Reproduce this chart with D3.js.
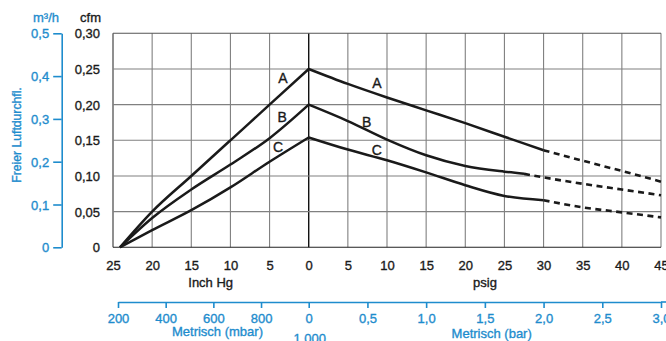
<!DOCTYPE html>
<html>
<head>
<meta charset="utf-8">
<script src="https://cdn.jsdelivr.net/npm/d3@7"></script>
<style>
  html, body { margin: 0; padding: 0; background: #fff; }
  svg { display: block; font-family: "Liberation Sans", Arial, Helvetica, sans-serif; }
  svg text { stroke-width: 0.35px; paint-order: stroke; }
</style>
</head>
<body>
<svg id="chart" width="666" height="341"></svg>
<script>
// ---------- data ----------
const curveNames = ["A", "B", "C"];

// x: negative = vacuum (inch Hg), positive = pressure (psig); y: free air flow (cfm)
const pressureA = [-24.1, -20, -15, -10, -5, 0, 5, 10, 15, 20, 25, 30];
const flowA     = [0, 0.05, 0.10, 0.15, 0.20, 0.25, 0.229, 0.21, 0.192, 0.174, 0.155, 0.136];
const pressureADash = [30, 35, 40, 45];
const flowADash     = [0.136, 0.1214, 0.107, 0.092];

const pressureB = [-24.1, -20, -15, -10, -5, 0, 5, 10, 15, 20, 25, 27.5];
const flowB     = [0, 0.041, 0.081, 0.116, 0.153, 0.20, 0.177, 0.151, 0.129, 0.114, 0.106, 0.103];
const pressureBDash = [27.5, 30, 35, 40, 45];
const flowBDash     = [0.103, 0.098, 0.089, 0.081, 0.073];

const pressureC = [-24.1, -20, -15, -10, -5, 0, 5, 10, 15, 20, 25, 30];
const flowC     = [0, 0.024, 0.052, 0.084, 0.12, 0.154, 0.137, 0.122, 0.105, 0.087, 0.072, 0.066];
const pressureCDash = [30, 35, 40, 45];
const flowCDash     = [0.066, 0.056, 0.049, 0.042];

// curve label anchors (data coordinates)
const labelLeftX  = [-3.3, -3.4, -3.9];
const labelLeftY  = [0.237, 0.182, 0.140];
const labelRightX = [8.7, 7.4, 8.7];
const labelRightY = [0.231, 0.176, 0.136];

// axes ticks
const xTicks = [-25, -20, -15, -10, -5, 0, 5, 10, 15, 20, 25, 30, 35, 40, 45];
const cfmTicks = [0, 0.05, 0.10, 0.15, 0.20, 0.25, 0.30];
const m3hTicks = [0, 0.1, 0.2, 0.3, 0.4, 0.5];
const mbarTicks = [200, 400, 600, 800];
const barTicks = [0, 0.5, 1.0, 1.5, 2.0, 2.5, 3.0];

// ---------- layout ----------
const BLUE = "#1e8ccd";
const INK = "#1a1a1a";
const plot = { left: 113, right: 661, top: 33.3, bottom: 247.3 };

const svg = d3.select("#chart");
svg.append("rect").attr("width", 666).attr("height", 341).attr("fill", "#fff");

const x = d3.scaleLinear().domain([-25, 45]).range([plot.left, plot.right]);
const y = d3.scaleLinear().domain([0, 0.30]).range([plot.bottom, plot.top]);
const yM3 = d3.scaleLinear().domain([0, 0.5]).range([plot.bottom, plot.top]);
const xMbar = d3.scaleLinear().domain([200, 1000]).range([118, x(0)]);
const xBar = d3.scaleLinear().domain([0, 3]).range([x(0), plot.right]);

const comma = s => s.replace(".", ",");
const txt = (sel, color) => sel.attr("fill", color).attr("stroke", color);

// ---------- grid ----------
const grid = svg.append("g");
grid.selectAll("line.v").data(xTicks).join("line")
  .attr("x1", d => x(d)).attr("x2", d => x(d))
  .attr("y1", plot.top).attr("y2", plot.bottom)
  .attr("stroke", d => d === 0 ? "#111" : (d === -25 ? "#333" : "#808080"))
  .attr("stroke-width", d => d === 0 ? 1.4 : 1.1);
grid.selectAll("line.h").data(cfmTicks).join("line")
  .attr("x1", plot.left).attr("x2", plot.right)
  .attr("y1", d => y(d)).attr("y2", d => y(d))
  .attr("stroke", d => d === 0 ? "#222" : (d === 0.30 ? "#555" : "#808080"))
  .attr("stroke-width", 1.1);

// ---------- curves ----------
const lineSmooth = d3.line().x(d => x(d[0])).y(d => y(d[1])).curve(d3.curveMonotoneX);
const solids = [[pressureA, flowA], [pressureB, flowB], [pressureC, flowC]];
const dashes = [[pressureADash, flowADash], [pressureBDash, flowBDash], [pressureCDash, flowCDash]];

solids.forEach(([px, fy]) => {
  const pts = px.map((v, i) => [v, fy[i]]);
  const k = px.indexOf(0);
  const left = lineSmooth(pts.slice(0, k + 1));
  const right = lineSmooth(pts.slice(k)).replace(/^M[^A-Za-z]*/, "");
  svg.append("path").attr("d", left + right)
    .attr("fill", "none").attr("stroke", INK)
    .attr("stroke-width", 2.5).attr("stroke-linejoin", "miter");
});
dashes.forEach(([px, fy]) => {
  svg.append("path").datum(px.map((v, i) => [v, fy[i]]))
    .attr("d", lineSmooth).attr("fill", "none").attr("stroke", INK)
    .attr("stroke-width", 2.6).attr("stroke-dasharray", "6,4.5");
});

// curve labels
curveNames.forEach((n, i) => {
  [[labelLeftX[i], labelLeftY[i]], [labelRightX[i], labelRightY[i]]].forEach(([lx, ly]) => {
    svg.append("text").attr("x", x(lx)).attr("y", y(ly))
      .attr("text-anchor", "middle").attr("dominant-baseline", "central")
      .attr("font-size", 14).call(txt, INK).text(n);
  });
});

// ---------- left cfm axis ----------
const axCfm = svg.append("g").attr("transform", `translate(${plot.left},0)`)
  .call(d3.axisLeft(y).tickValues(cfmTicks).tickSize(0).tickPadding(13)
    .tickFormat(d => d === 0 ? "0" : comma(d3.format(".2f")(d))));
axCfm.select(".domain").remove();
axCfm.selectAll("text").attr("font-size", 13).call(txt, INK)
  .attr("font-family", null).attr("dy", "0.36em");
svg.append("text").attr("x", 90.5).attr("y", 17).attr("text-anchor", "middle")
  .attr("dominant-baseline", "central").attr("font-size", 13).call(txt, INK).text("cfm");

// ---------- left m3/h axis ----------
const axM3 = svg.append("g").attr("transform", "translate(61.7,0)")
  .call(d3.axisLeft(yM3).tickValues(m3hTicks).tickSize(8.5).tickSizeOuter(0).tickPadding(4)
    .tickFormat(d => d === 0 ? "0" : comma(d3.format(".1f")(d))));
axM3.selectAll("path, line").attr("stroke", BLUE).attr("stroke-width", 1.6);
axM3.selectAll("text").attr("font-size", 13).call(txt, BLUE)
  .attr("font-family", null).attr("dy", "0.36em");
svg.append("text").attr("x", 46).attr("y", 17).attr("text-anchor", "middle")
  .attr("dominant-baseline", "central").attr("font-size", 13).call(txt, BLUE)
  .text("m³/h");
svg.append("text").attr("transform", "translate(16.5,135) rotate(-90)")
  .attr("text-anchor", "middle").attr("dominant-baseline", "central")
  .attr("font-size", 12.2).call(txt, BLUE).text("Freier Luftdurchfl.");

// ---------- bottom inch Hg / psig axis ----------
const axX = svg.append("g").attr("transform", `translate(0,${plot.bottom})`)
  .call(d3.axisBottom(x).tickValues(xTicks).tickSize(0).tickPadding(13)
    .tickFormat(d => String(Math.abs(d))));
axX.select(".domain").remove();
axX.selectAll("text").attr("font-size", 13).call(txt, INK).attr("font-family", null)
  .attr("y", 17.7).attr("dy", "0.36em");
svg.append("text").attr("x", 210.7).attr("y", 282.3).attr("text-anchor", "middle")
  .attr("dominant-baseline", "central").attr("font-size", 13).call(txt, INK).text("Inch Hg");
svg.append("text").attr("x", 485).attr("y", 282.3).attr("text-anchor", "middle")
  .attr("dominant-baseline", "central").attr("font-size", 13).call(txt, INK).text("psig");

// ---------- bottom metric axes ----------
const metY = 302;
const axMbar = svg.append("g").attr("transform", `translate(0,${metY})`)
  .call(d3.axisBottom(xMbar).tickValues(mbarTicks).tickSize(6).tickSizeOuter(0).tickPadding(4)
    .tickFormat(d3.format("d")));
const axBar = svg.append("g").attr("transform", `translate(0,${metY})`)
  .call(d3.axisBottom(xBar).tickValues(barTicks).tickSize(6).tickSizeOuter(0).tickPadding(4)
    .tickFormat(d => d === 0 ? "0" : comma(d3.format(".1f")(d))));
[axMbar, axBar].forEach(ax => {
  ax.selectAll("path, line").attr("stroke", BLUE).attr("stroke-width", 1.6);
  ax.selectAll("text").attr("font-size", 13).call(txt, BLUE).attr("font-family", null)
    .attr("y", 16.3).attr("dy", "0.36em");
});
svg.append("line").attr("x1", plot.right).attr("x2", 666).attr("y1", metY).attr("y2", metY)
  .attr("stroke", BLUE).attr("stroke-width", 1.6);
svg.append("text").attr("x", x(0) + 1).attr("y", 338.5).attr("text-anchor", "middle")
  .attr("dominant-baseline", "central").attr("font-size", 13).call(txt, BLUE).text("1.000");
svg.append("text").attr("x", 217.5).attr("y", 331.5).attr("text-anchor", "middle")
  .attr("dominant-baseline", "central").attr("font-size", 13).call(txt, BLUE).text("Metrisch (mbar)");
svg.append("text").attr("x", 491.7).attr("y", 333.3).attr("text-anchor", "middle")
  .attr("dominant-baseline", "central").attr("font-size", 13).call(txt, BLUE).text("Metrisch (bar)");
</script>
</body>
</html>
